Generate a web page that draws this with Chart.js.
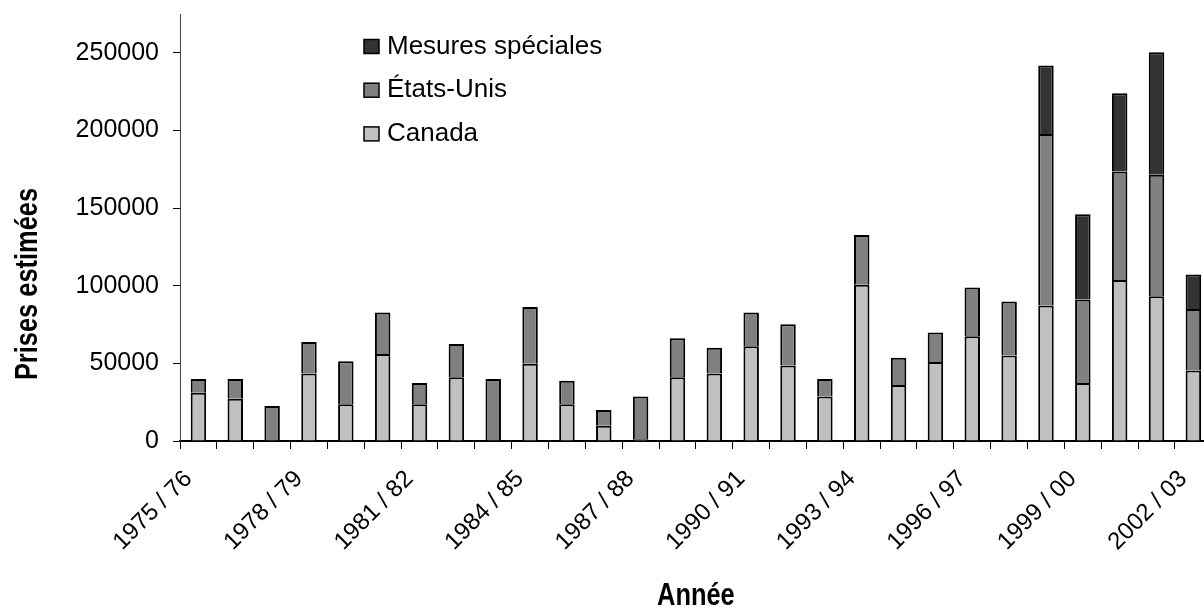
<!DOCTYPE html>
<html>
<head>
<meta charset="utf-8">
<script src="https://cdn.jsdelivr.net/npm/chart.js@4/dist/chart.umd.min.js"></script>
<style>
  html, body { margin: 0; padding: 0; overflow: hidden; background: #fff; }
  canvas { display: block; }
</style>
</head>
<body>
<canvas id="chart" width="1230" height="609"></canvas>
<script>
// saisons 1975/76 a 2002/03
const years = [
    '1975 / 76', '1976 / 77', '1977 / 78', '1978 / 79', '1979 / 80', '1980 / 81', '1981 / 82',
    '1982 / 83', '1983 / 84', '1984 / 85', '1985 / 86', '1986 / 87', '1987 / 88', '1988 / 89',
    '1989 / 90', '1990 / 91', '1991 / 92', '1992 / 93', '1993 / 94', '1994 / 95', '1995 / 96',
    '1996 / 97', '1997 / 98', '1998 / 99', '1999 / 00', '2000 / 01', '2001 / 02', '2002 / 03'
];

// prises estimees par groupe
const canada = [
    31000, 27200, 0, 43500, 23600, 56100, 23600, 41100, 0, 49700, 23600, 9900, 1100, 41100,
    43500, 61000, 48600, 28700, 100700, 36000, 50900, 67400, 55000, 87200, 37300, 103700, 93300, 45400
];
const etatsUnis = [
    9000, 12800, 22500, 20300, 27800, 26600, 13700, 21400, 40000, 36600, 15200, 10000, 27600, 25100,
    16500, 21700, 26600, 11300, 31900, 17600, 19000, 31500, 34900, 110500, 53900, 69800, 78100, 39600
];
const mesuresSpeciales = [
    0, 0, 0, 0, 0, 0, 0, 0, 0, 0, 0, 0, 0, 0,
    0, 0, 0, 0, 0, 0, 0, 0, 0, 44100, 54900, 50500, 78900, 22300
];

const yTicks = [0, 50000, 100000, 150000, 200000, 250000];

const FONT = "'Liberation Sans', Arial, sans-serif";

// texte gras "etroit" (Arial Narrow n'est pas installe)
function narrowText(ctx, text, x, y, rot) {
    ctx.save();
    ctx.translate(x, y);
    if (rot) ctx.rotate(rot);
    ctx.scale(0.82, 1);
    ctx.fillText(text, 0, 0);
    ctx.restore();
}

// legende verticale dans la zone du graphique + titres d'axes
const extras = {
    id: 'extras',
    afterDraw(chart) {
        const ctx = chart.ctx;
        const area = chart.chartArea;
        ctx.save();

        const items = [2, 1, 0];
        items.forEach((di, i) => {
            const ds = chart.data.datasets[di];
            const y = 46.5 + i * 43.7;
            ctx.fillStyle = ds.backgroundColor;
            ctx.fillRect(364, y - 7, 15, 14);
            ctx.strokeStyle = '#000';
            ctx.lineWidth = 1.5;
            ctx.strokeRect(364, y - 7, 15, 14);
            ctx.fillStyle = '#000';
            ctx.font = '26px ' + FONT;
            ctx.textAlign = 'left';
            ctx.textBaseline = 'middle';
            ctx.fillText(ds.label, 387, y);
        });

        ctx.font = 'bold 31px ' + FONT;
        ctx.fillStyle = '#000';
        ctx.textAlign = 'center';
        ctx.textBaseline = 'middle';
        narrowText(ctx, 'Année', (area.left + area.right) / 2, 596, 0);
        narrowText(ctx, 'Prises estimées', 28, 284, -Math.PI / 2);
        ctx.restore();
    }
};

const ctx = document.getElementById('chart').getContext('2d');
const myChart = new Chart(ctx, {
    type: 'bar',
    data: {
        labels: years,
        datasets: [{
            label: 'Canada',
            data: canada,
            backgroundColor: '#c0c0c0',
            borderColor: '#000',
            borderWidth: 2
        }, {
            label: 'États-Unis',
            data: etatsUnis,
            backgroundColor: '#808080',
            borderColor: '#000',
            borderWidth: 2
        }, {
            label: 'Mesures spéciales',
            data: mesuresSpeciales,
            backgroundColor: '#333333',
            borderColor: '#000',
            borderWidth: 2
        }]
    },
    options: {
        responsive: false,
        animation: false,
        layout: { padding: { top: 14, right: 15, left: 0, bottom: 0 } },
        datasets: {
            bar: { barPercentage: 0.42, categoryPercentage: 1 }
        },
        plugins: {
            legend: { display: false },
            tooltip: { enabled: false }
        },
        scales: {
            x: {
                stacked: true,
                grid: { display: true, drawOnChartArea: false, color: '#000', tickLength: 8, offset: true },
                border: { color: '#000', width: 2 },
                ticks: {
                    autoSkip: false,
                    maxRotation: 45,
                    minRotation: 45,
                    padding: 16,
                    labelOffset: -10,
                    color: '#000',
                    font: { family: FONT, size: 24 },
                    callback: (v, i) => i % 3 === 0 ? years[i] : ''
                },
                afterFit: (scale) => { scale.height = 168; }
            },
            y: {
                stacked: true,
                min: 0,
                max: 275000,
                grid: { display: true, drawOnChartArea: false, color: '#000', tickLength: 7 },
                border: { color: '#444', width: 1 },
                ticks: {
                    stepSize: 50000,
                    padding: 14,
                    color: '#000',
                    font: { family: FONT, size: 25 },
                    callback: (v) => String(v)
                },
                afterBuildTicks: (scale) => {
                    scale.ticks = yTicks.map(v => ({ value: v }));
                },
                afterFit: (scale) => {
                    scale.width = 180;
                    scale.paddingTop = 0;
                    scale.paddingBottom = 0;
                }
            }
        }
    },
    plugins: [extras]
});
</script>
</body>
</html>
